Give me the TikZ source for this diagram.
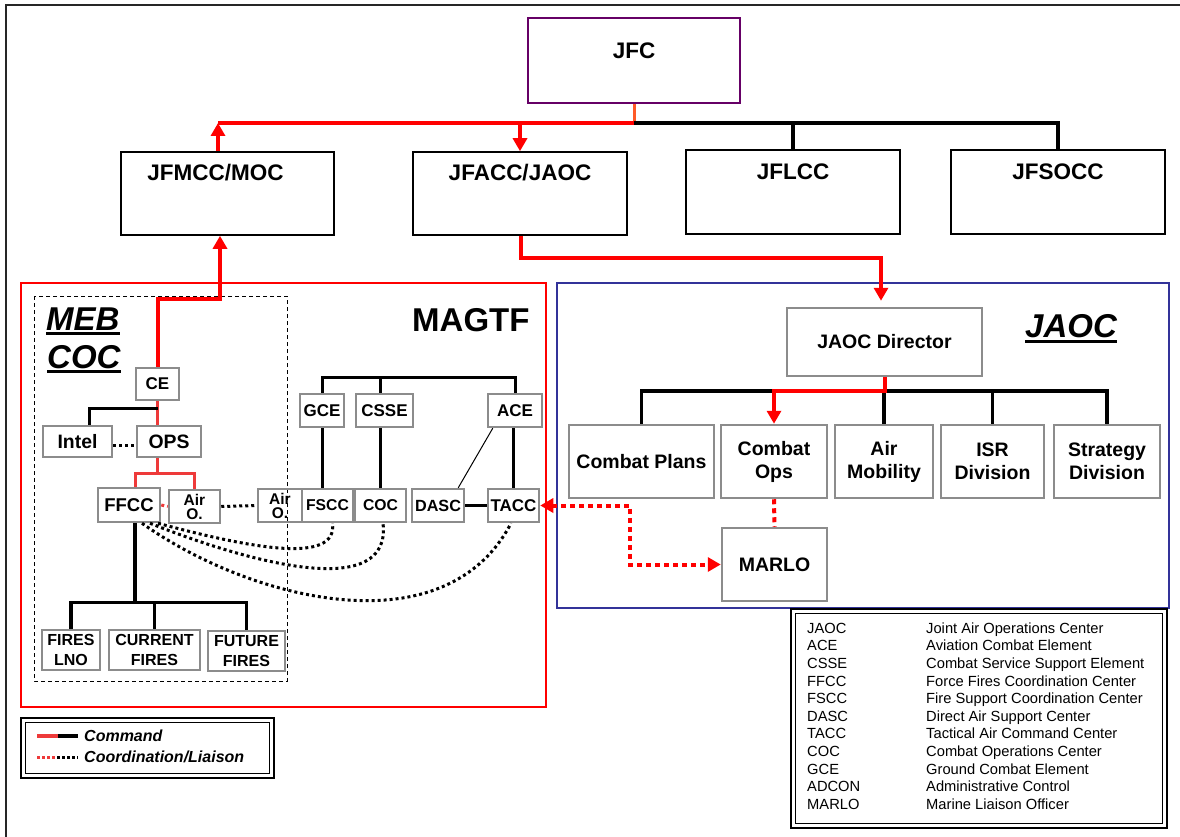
\documentclass[tikz,border=0pt]{standalone}
\usepackage{fontspec}
\setmainfont{Liberation Sans}
\usetikzlibrary{arrows.meta}
\definecolor{jfcpurple}{RGB}{102,0,102}
\definecolor{jaocblue}{RGB}{51,51,153}
\definecolor{boxgray}{RGB}{140,140,140}
\definecolor{lightred}{RGB}{238,58,58}
\definecolor{stuborange}{RGB}{255,90,40}

\begin{document}
\begin{tikzpicture}[
    x=1pt, y=-1pt,
    topbox/.style={draw=black, line width=2.2pt, inner sep=0pt,
      minimum width=214pt, minimum height=84pt,
      font=\fontsize{22.5}{26}\selectfont\bfseries,
      text height=16pt, text depth=41pt},
    cell/.style={draw=boxgray, line width=2.5pt, inner sep=0pt, align=center,
      font=\fontsize{17}{15}\selectfont\bfseries},
    division/.style={cell, minimum height=73pt,
      font=\fontsize{19.5}{23}\selectfont\bfseries},
    wire/.style={black, line width=3.5pt},
    cmd/.style={red, line width=4pt},
    cmdlight/.style={lightred, line width=3pt},
    liaison/.style={red, line width=4pt, dash pattern=on 5pt off 4pt},
    dotline/.style={black, line width=3pt, dash pattern=on 3pt off 3pt},
    headed/.style={-{Triangle[length=13pt,width=14pt]}},
    heading/.style={inner sep=0pt, anchor=base west,
      font=\fontsize{33}{36}\selectfont\bfseries\itshape},
    gloss/.style={inner sep=0pt, anchor=base west, font=\fontsize{14.7}{17}\selectfont},
    keytext/.style={inner sep=0pt, anchor=west,
      font=\fontsize{16}{18}\selectfont\bfseries\itshape}
  ]
  \useasboundingbox (0,0) rectangle (1180,837);
  \draw[line width=2.5pt, black!85] (1180,5) -- (6,5) -- (6,837);

  % ---------- joint level ----------
  \node[topbox, draw=jfcpurple, minimum width=212pt, minimum height=85pt,
    text depth=19pt] (jfc) at (634,60.5) {JFC};
  \node[topbox, line width=1.6pt, minimum width=213pt, minimum height=83pt] (jfmcc) at (227.5,193.5) {JFMCC/MOC\hspace*{24pt}};
  \node[topbox, line width=1.6pt, minimum height=83pt] (jfacc) at (520,193.5) {JFACC/JAOC};
  \node[topbox] (jflcc) at (793,192) {JFLCC};
  \node[topbox] (jfsocc) at (1058,192) {JFSOCC};

  \coordinate (bus) at (634,123);
  \coordinate (moc) at ([xshift=-9.5pt]jfmcc.north);
  \draw[stuborange, line width=3pt] (jfc.south) -- (bus);
  \draw[wire] (bus) -| (jfsocc.north);
  \draw[wire] (bus -| jflcc.north) -- (jflcc.north);
  \draw[cmd] (bus) -- (bus -| moc);
  \draw[cmd, headed] (moc) -- (bus -| moc);
  \draw[cmd, headed] (bus -| jfacc.north) -- (jfacc.north);

  % ---------- MAGTF ----------
  \draw[red, line width=2pt] (21,283) rectangle (546,707);
  \draw[line width=1pt, dash pattern=on 4pt off 3pt] (34,296) rectangle (287,681);
  \node[heading] (meb) at (46,330) {MEB};
  \node[heading] (mebcoc) at (47,368) {COC};
  \node[heading, font=\fontsize{33}{36}\selectfont\bfseries] (magtf) at (412,331) {MAGTF};
  \foreach \t in {meb,mebcoc}{
    \draw[line width=3pt] ([yshift=-3.5pt]\t.base west) -- ([yshift=-3.5pt]\t.base east);
  }

  \node[cell, minimum width=43pt, minimum height=32pt] (ce) at (157.5,384) {CE};
  \node[cell, minimum width=69pt, minimum height=31pt, font=\fontsize{19.4}{20}\selectfont\bfseries] (intel) at (77.5,441.5) {Intel};
  \node[cell, minimum width=64pt, minimum height=31pt, font=\fontsize{19.4}{20}\selectfont\bfseries] (ops) at (169,441.5) {OPS};
  \node[cell, minimum width=62pt, minimum height=34pt, font=\fontsize{18.5}{20}\selectfont\bfseries] (ffcc) at (129,505) {FFCC};
  \node[cell, minimum width=51pt, minimum height=33pt, font=\fontsize{15.5}{14}\selectfont\bfseries] (airl) at (194.5,506.5) {Air\\O.};
  \node[cell, minimum width=44pt, minimum height=33pt, font=\fontsize{15.5}{14}\selectfont\bfseries] (airr) at (280,505.5) {Air\\O.};
  \node[cell, minimum width=51pt, minimum height=33pt, font=\fontsize{15.7}{16}\selectfont\bfseries] (fscc) at (327.5,505.5) {FSCC};
  \node[cell, minimum width=51pt, minimum height=33pt, font=\fontsize{15.7}{16}\selectfont\bfseries] (coc) at (380.5,505.5) {COC};
  \node[cell, minimum width=52pt, minimum height=33pt, font=\fontsize{16.2}{16}\selectfont\bfseries] (dasc) at (438,505.5) {DASC};
  \node[cell, minimum width=51pt, minimum height=33pt] (tacc) at (513.5,505.5) {TACC};
  \node[cell, minimum width=44pt, minimum height=33pt] (gce) at (322,410.5) {GCE};
  \node[cell, minimum width=57pt, minimum height=33pt] (csse) at (384.5,410.5) {CSSE};
  \node[cell, minimum width=54pt, minimum height=33pt] (ace) at (515,410.5) {ACE};
  \node[cell, minimum width=58pt, minimum height=40pt, font=\fontsize{16}{20}\selectfont\bfseries] (fireslno) at (71,650) {FIRES\\LNO};
  \node[cell, minimum width=91pt, minimum height=40pt, font=\fontsize{16}{20}\selectfont\bfseries] (curfires) at (154.5,650) {CURRENT\\FIRES};
  \node[cell, minimum width=77pt, minimum height=40pt, font=\fontsize{16}{20}\selectfont\bfseries] (futfires) at (246.5,651) {FUTURE\\FIRES};

  % command chain inside the MEB COC
  \draw[cmd, headed] (ce.north) -- ++(0,-68) -| ([xshift=-7.5pt]jfmcc.south);
  \draw[cmdlight] (ce.south) -- (ce.south |- ops.north);
  \draw[wire, line width=3pt] ([yshift=-7pt]ce.south) -| ([xshift=11.5pt]intel.north);
  \draw[dotline] ([yshift=-4pt]intel.east) -- ([yshift=-4pt]ops.west);
  \draw[cmdlight] (ce.south |- ops.south) -- ++(0,15) coordinate (opsfork);
  \draw[cmdlight] ([xshift=6pt]ffcc.north) |- (opsfork) -| (airl.north);
  \draw[lightred, line width=3pt, dash pattern=on 3pt off 3pt] (ffcc.east) -- (airl.west);
  \draw[dotline] (airl.east) -- (airr.west);
  \draw[wire] ([xshift=6pt]ffcc.south) -- ++(0,79) coordinate (firesbus);
  \draw[wire] (fireslno.north) |- (futfires.north |- firesbus) -- (futfires.north);
  \draw[wire] (curfires.north) -- (curfires.north |- firesbus);

  % MAGTF elements
  \coordinate (magbus) at (322,377);
  \draw[wire, line width=3pt] (gce.north) |- (ace.north |- magbus) -- (ace.north);
  \draw[wire, line width=3pt] (coc.north |- magbus) -- (coc.north |- csse.north);
  \draw[wire, line width=3pt] (gce.south) -- (gce.south |- fscc.north);
  \draw[wire, line width=3pt] (coc.north |- csse.south) -- (coc.north);
  \draw[wire, line width=3pt] (tacc.north |- ace.south) -- (tacc.north);
  \draw[line width=1pt] ([xshift=6pt]ace.south west) -- ([xshift=-7pt]dasc.north east);
  \draw[wire] (dasc.east) -- (tacc.west);

  % coordination from the FFCC
  \draw[dotline] ([xshift=29pt]ffcc.south) .. controls (250,548) and (338,565) .. ([xshift=5pt]fscc.south);
  \draw[dotline] ([xshift=21pt]ffcc.south) .. controls (255,565) and (392,600) .. ([xshift=2.5pt]coc.south);
  \draw[dotline] ([xshift=13pt]ffcc.south) .. controls (250,600) and (445,650) .. ([xshift=-2.5pt]tacc.south);

  % ---------- JAOC ----------
  \draw[jaocblue, line width=2pt] (557,283) rectangle (1169,608);
  \node[heading] (jaoctitle) at (1025,337) {JAOC};
  \draw[line width=3pt] ([yshift=-4.5pt]jaoctitle.base west) -- ([yshift=-4.5pt]jaoctitle.base east);

  \node[division, minimum width=195pt, minimum height=68pt] (jdir) at (884.5,342) {JAOC Director};
  \node[division, minimum width=145pt] (plans) at (641.5,461.5) {Combat Plans};
  \node[division, minimum width=106pt] (cops) at (774,461.5) {Combat\\Ops};
  \node[division, minimum width=98pt] (mob) at (884,461.5) {Air\\Mobility};
  \node[division, minimum width=103pt] (isr) at (992.5,461.5) {ISR\\Division};
  \node[division, minimum width=106pt] (strat) at (1107,461.5) {Strategy\\Division};
  \node[division, minimum width=105pt] (marlo) at (774.5,564.5) {MARLO};

  \coordinate (jbus) at (643,391);
  \draw[wire] (plans.north) |- (strat.north |- jbus) -- (strat.north);
  \draw[wire] (mob.north) -- (mob.north |- jbus);
  \draw[wire] (isr.north) -- (isr.north |- jbus);
  \draw[cmd, headed] (jdir.south) -- (jdir.south |- jbus) -| (cops.north);
  \draw[cmd, headed] ([xshift=1pt]jfacc.south) -- ++(0,22) -| ([xshift=-3.5pt,yshift=6pt]jdir.north);
  \draw[liaison] (cops.south) -- (marlo.north);
  \draw[liaison, {Triangle[length=13pt,width=14pt]}-{Triangle[length=13pt,width=14pt]}]
    (tacc.east) -- (630,505.5) |- (marlo.west);

  % ---------- legend ----------
  \draw[line width=2.5pt] (21,718) rectangle (274,778);
  \draw[line width=1pt] (25.5,722.5) rectangle (269.5,773.5);
  \node[keytext] (cmdkey) at (84,736) {Command};
  \node[keytext] (liaikey) at (84,757) {Coordination/Liaison};
  \draw[lightred, line width=3.5pt] ([xshift=-47pt]cmdkey.west) -- ([xshift=-26pt]cmdkey.west);
  \draw[wire] ([xshift=-26pt]cmdkey.west) -- ([xshift=-6pt]cmdkey.west);
  \draw[lightred, line width=3pt, dash pattern=on 3pt off 2pt] ([xshift=-47pt]liaikey.west) -- ([xshift=-27pt]liaikey.west);
  \draw[dotline, dash pattern=on 3pt off 2pt] ([xshift=-27pt]liaikey.west) -- ([xshift=-6pt]liaikey.west);

  % ---------- glossary ----------
  \draw[line width=2.5pt] (791,609) rectangle (1167,828);
  \draw[line width=1pt] (795.5,613.5) rectangle (1162.5,823.5);
  \foreach \abbr/\full [count=\i from 0] in {JAOC/Joint Air Operations Center,
      ACE/Aviation Combat Element, CSSE/Combat Service Support Element,
      FFCC/Force Fires Coordination Center, FSCC/Fire Support Coordination Center,
      DASC/Direct Air Support Center, TACC/Tactical Air Command Center,
      COC/Combat Operations Center, GCE/Ground Combat Element,
      ADCON/Administrative Control, MARLO/Marine Liaison Officer}{
    \node[gloss] (abbr\i) at (807,633.3+17.6*\i) {\abbr};
    \node[gloss] (full\i) at (926,633.3+17.6*\i) {\full};
  }
\end{tikzpicture}
\end{document}
